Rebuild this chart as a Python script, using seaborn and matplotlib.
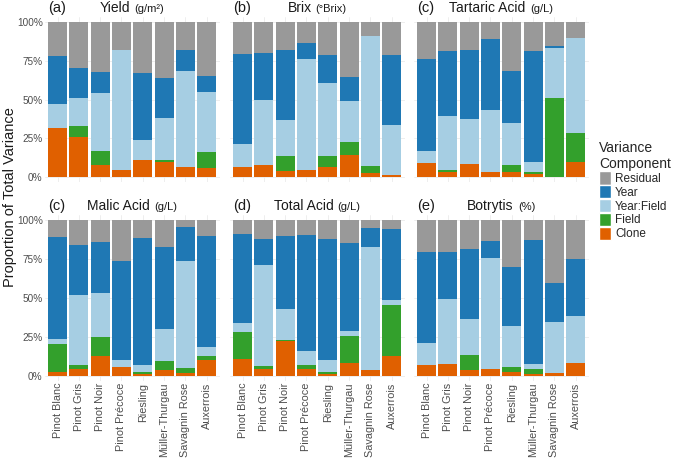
import pandas as pd
import seaborn as sns
import matplotlib.pyplot as plt
from matplotlib.patches import Patch
from matplotlib.ticker import PercentFormatter
from matplotlib.offsetbox import TextArea, HPacker, AnchoredOffsetbox

#%% data (percent of total variance)
varieties = ['Pinot Blanc', 'Pinot Gris', 'Pinot Noir', 'Pinot Précoce',
             'Riesling', 'Müller-Thurgau', 'Savagnin Rose', 'Auxerrois']
components = ['Residual', 'Year', 'Year:Field', 'Field', 'Clone']
colors = ['#999999', '#1f78b4', '#a6cee3', '#33a02c', '#e06000']

# each list: one value per variety, in the order of `varieties`
yield_clone = [31.5, 25.7, 7.5, 4.7, 11.1, 9.6, 6.4, 5.6]
yield_field = [0.0, 7.3, 9.0, 0.0, 0.0, 1.3, 0.0, 10.5]
yield_yf = [15.4, 18.2, 37.7, 77.3, 12.9, 27.2, 61.9, 38.5]
yield_year = [31.3, 19.2, 13.5, 0.0, 43.2, 25.9, 13.5, 10.5]
yield_res = [21.8, 29.6, 32.3, 18.0, 32.8, 36.0, 18.2, 34.9]

brix_clone = [6.4, 7.9, 4.1, 4.7, 6.2, 13.9, 2.8, 1.1]
brix_field = [0.0, 0.0, 9.6, 0.0, 7.1, 9.0, 4.5, 0.4]
brix_yf = [15.0, 41.8, 23.1, 71.3, 47.5, 26.4, 83.7, 31.9]
brix_year = [57.8, 30.2, 44.8, 10.5, 17.6, 15.2, 0.0, 45.6]
brix_res = [20.8, 20.1, 18.4, 13.5, 21.6, 35.5, 9.0, 21.0]

tart_clone = [8.8, 3.0, 8.6, 3.0, 3.0, 2.1, 0.3, 9.6]
tart_field = [0.0, 1.7, 0.0, 0.0, 4.9, 1.3, 50.7, 18.7]
tart_yf = [7.7, 34.5, 29.1, 40.0, 27.2, 6.0, 31.9, 61.2]
tart_year = [59.5, 42.2, 44.1, 46.1, 33.2, 72.0, 1.7, 0.0]
tart_res = [24.0, 18.6, 18.2, 10.9, 31.7, 18.6, 15.4, 10.5]

malic_clone = [2.6, 4.5, 12.8, 5.8, 1.3, 3.8, 1.9, 10.0]
malic_field = [17.9, 2.8, 12.4, 0.0, 1.3, 5.6, 3.2, 2.8]
malic_yf = [3.2, 44.6, 28.0, 4.7, 4.7, 20.7, 68.4, 6.0]
malic_year = [65.6, 32.1, 32.7, 63.0, 81.4, 52.8, 22.0, 71.2]
malic_res = [10.7, 16.0, 14.1, 26.5, 11.3, 17.1, 4.5, 10.0]

ta_clone = [10.7, 4.3, 22.2, 4.3, 1.3, 8.3, 4.1, 12.8]
ta_field = [17.3, 2.1, 1.1, 2.8, 1.5, 17.6, 0.0, 32.7]
ta_yf = [5.8, 64.5, 19.6, 8.7, 7.2, 3.2, 78.4, 3.2]
ta_year = [57.2, 16.9, 46.6, 74.6, 77.6, 55.9, 12.6, 45.5]
ta_res = [9.0, 12.2, 10.5, 9.6, 12.4, 15.0, 4.9, 5.8]

bot_clone = [6.8, 7.9, 4.1, 4.5, 2.6, 1.1, 1.9, 8.3]
bot_field = [0.0, 0.0, 9.4, 0.0, 3.2, 3.4, 0.0, 0.0]
bot_yf = [14.6, 41.7, 23.3, 71.4, 26.3, 3.4, 32.5, 29.9]
bot_year = [57.9, 30.1, 44.6, 10.4, 37.8, 79.5, 25.2, 36.6]
bot_res = [20.7, 20.3, 18.6, 13.7, 30.1, 12.6, 40.4, 25.2]

panels = [
    ('(a)', 'Yield', '(g/m²)', [yield_res, yield_year, yield_yf, yield_field, yield_clone]),
    ('(b)', 'Brix', '(°Brix)', [brix_res, brix_year, brix_yf, brix_field, brix_clone]),
    ('(c)', 'Tartaric Acid', '(g/L)', [tart_res, tart_year, tart_yf, tart_field, tart_clone]),
    ('(c)', 'Malic Acid', '(g/L)', [malic_res, malic_year, malic_yf, malic_field, malic_clone]),
    ('(d)', 'Total Acid', '(g/L)', [ta_res, ta_year, ta_yf, ta_field, ta_clone]),
    ('(e)', 'Botrytis', '(%)', [bot_res, bot_year, bot_yf, bot_field, bot_clone]),
]

#%% style
sns.set_style('white')
plt.rcParams['font.family'] = ['Liberation Sans', 'DejaVu Sans']
txt_grey = '#4d4d4d'

W, H = 676, 463
fig = plt.figure(figsize=(W / 100, H / 100), dpi=100)

lefts = [44.8, 229.8, 413.8]
ax_w = 174.7
rows = [(17.3, 181.7), (215.3, 380.7)]

for i, (tag, name, unit, vals) in enumerate(panels):
    r, c = divmod(i, 3)
    top, bottom = rows[r]
    ax = fig.add_axes([lefts[c] / W, 1 - bottom / H, ax_w / W, (bottom - top) / H])

    long = pd.DataFrame({
        'variety': varieties * len(components),
        'component': [comp for comp in components for _ in varieties],
        'value': [v for series in vals for v in series],
    })
    sns.histplot(data=long, x='variety', weights='value', hue='component',
                 hue_order=components, palette=colors, multiple='stack',
                 discrete=True, shrink=0.9, alpha=1, linewidth=0,
                 legend=False, ax=ax, zorder=3)

    ax.set_xlim(-0.6, 7.6)
    ax.set_ylim(-3, 103)
    ax.set_yticks([0, 25, 50, 75, 100])
    ax.yaxis.set_major_formatter(PercentFormatter(100, decimals=0))
    ax.set_xticks(range(len(varieties)))
    ax.grid(True, color='#ebebeb', linewidth=0.6, zorder=0)
    ax.set_axisbelow(True)
    ax.set_xlabel('')
    ax.set_ylabel('')
    sns.despine(ax=ax, left=True, bottom=True)
    ax.tick_params(length=0, pad=1.5, labelsize=7.2, colors=txt_grey)

    if c == 0:
        ax.tick_params(axis='y', labelleft=True)
    else:
        ax.set_yticklabels([])
    if r == 1:
        ax.set_xticklabels(varieties, rotation=90, fontsize=7.8)
    else:
        ax.set_xticklabels([])

    # panel title: name plus smaller unit
    box = HPacker(children=[TextArea(name, textprops=dict(size=10, color='#1a1a1a')),
                            TextArea(unit, textprops=dict(size=8, color='#1a1a1a'))],
                  align='baseline', pad=0, sep=3)
    ab = AnchoredOffsetbox(loc='lower center', child=box, frameon=False,
                           bbox_to_anchor=(0.5, 1.0), bbox_transform=ax.transAxes,
                           borderpad=0.15, pad=0)
    ax.add_artist(ab)
    ax.annotate(tag, xy=(0.02, 1.0), xycoords='axes fraction', xytext=(0, 3.5),
                textcoords='offset points', ha='left', va='baseline',
                fontsize=10.5, color='#1a1a1a')

fig.text(10 / W, 1 - 197 / H, 'Proportion of Total Variance', rotation=90,
         ha='center', va='center', fontsize=10.5, color='#1a1a1a')

handles = [Patch(facecolor=col, label=lab) for lab, col in zip(components, colors)]
fig.legend(handles=handles, title='Variance\nComponent', loc='upper left',
           bbox_to_anchor=(599 / W, 1 - 141 / H), frameon=False, fontsize=8.5,
           title_fontsize=10, handlelength=1.0, handleheight=1.35,
           labelspacing=0.02, handletextpad=0.35, borderpad=0, borderaxespad=0,
           alignment='left')

fig.savefig('out.png', dpi=100)
